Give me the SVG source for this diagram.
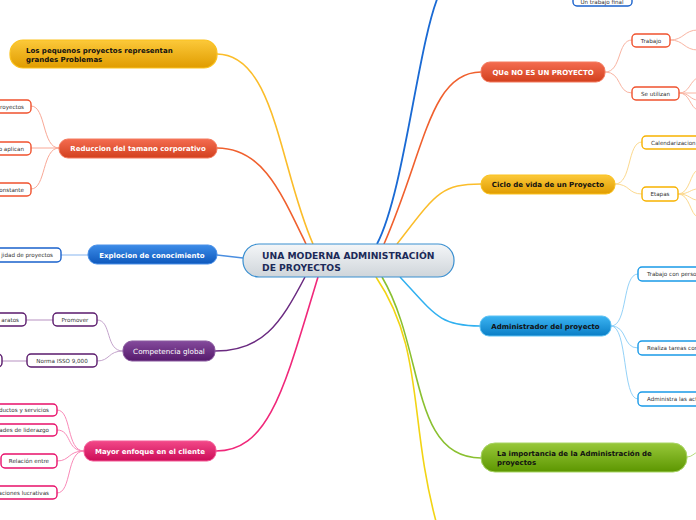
<svg xmlns="http://www.w3.org/2000/svg" width="696" height="520" viewBox="0 0 696 520">
<defs>
<linearGradient id="gCenter" x1="0" y1="0" x2="0" y2="1"><stop offset="0" stop-color="#f4f6f8"/><stop offset="1" stop-color="#cfd5da"/></linearGradient>
<linearGradient id="gYellow" x1="0" y1="0" x2="0" y2="1"><stop offset="0" stop-color="#fcc93a"/><stop offset="1" stop-color="#e09c00"/></linearGradient>
<linearGradient id="gRed" x1="0" y1="0" x2="0" y2="1"><stop offset="0" stop-color="#f46c50"/><stop offset="1" stop-color="#d2401e"/></linearGradient>
<linearGradient id="gBlue" x1="0" y1="0" x2="0" y2="1"><stop offset="0" stop-color="#3c8ce8"/><stop offset="1" stop-color="#0e58bc"/></linearGradient>
<linearGradient id="gPurple" x1="0" y1="0" x2="0" y2="1"><stop offset="0" stop-color="#844a9c"/><stop offset="1" stop-color="#561a6c"/></linearGradient>
<linearGradient id="gPink" x1="0" y1="0" x2="0" y2="1"><stop offset="0" stop-color="#f24888"/><stop offset="1" stop-color="#cc0c58"/></linearGradient>
<linearGradient id="gCyan" x1="0" y1="0" x2="0" y2="1"><stop offset="0" stop-color="#3cb4f2"/><stop offset="1" stop-color="#0a7ec6"/></linearGradient>
<linearGradient id="gGreen" x1="0" y1="0" x2="0" y2="1"><stop offset="0" stop-color="#98c83a"/><stop offset="1" stop-color="#5c9600"/></linearGradient>
</defs>
<style>
text{font-family:"DejaVu Sans",Verdana,sans-serif;}
.main{font-size:7px;font-weight:bold;}
.w{fill:#ffffff;}
.k{fill:#111111;}
.sub{font-size:5.6px;fill:#333333;}
.sn{fill:#ffffff;stroke-width:1.4;}
.c{fill:none;}
</style>

<g id="connectors">
  <path class="c" d="M377,244 C405,190 418,40 440,-8" stroke="#1a6ad4" stroke-width="1.8"/>
  <path class="c" d="M384,244 C425,150 430,72 481,72" stroke="#f0602e" stroke-width="1.6"/>
  <path class="c" d="M397,244 C435,195 440,184 481,184" stroke="#fbbd2a" stroke-width="1.5"/>
  <path class="c" d="M313,244 C280,170 275,54 217,54" stroke="#fbbd2a" stroke-width="1.6"/>
  <path class="c" d="M306,244 C280,190 262,148 217,148" stroke="#f0602e" stroke-width="1.6"/>
  <path class="c" d="M243,258 L217,255" stroke="#4a8ee0" stroke-width="1.4"/>
  <path class="c" d="M305,277 C280,325 262,351 215,351" stroke="#6a2a80" stroke-width="1.5"/>
  <path class="c" d="M318,277 C285,385 270,451 216,451" stroke="#f0287a" stroke-width="1.6"/>
  <path class="c" d="M400,277 C435,315 440,326 480,326" stroke="#30b0f0" stroke-width="1.5"/>
  <path class="c" d="M382,277 C425,350 410,458 481,458" stroke="#8ac030" stroke-width="1.6"/>
  <path class="c" d="M376,277 C425,350 408,420 437,525" stroke="#f2d414" stroke-width="1.6"/>
  <path class="c" d="M59,148 C42,148 46,106 31,106" stroke="#f9a896" stroke-width="1"/>
  <path class="c" d="M59,148 L31,148" stroke="#f9a896" stroke-width="1"/>
  <path class="c" d="M59,148 C42,148 46,189 31,189" stroke="#f9a896" stroke-width="1"/>
  <path class="c" d="M88,255 L61,255" stroke="#9cc2f2" stroke-width="1.2"/>
  <path class="c" d="M123,351 C105,351 112,320 97,320" stroke="#c4a4cc" stroke-width="1"/>
  <path class="c" d="M123,351 C108,351 110,361 97,361" stroke="#c4a4cc" stroke-width="1"/>
  <path class="c" d="M53,320 L26,320" stroke="#c4a4cc" stroke-width="1.2"/>
  <path class="c" d="M27,361 L2,361" stroke="#c4a4cc" stroke-width="1.2"/>
  <path class="c" d="M84,451 C66,451 72,410 57,410" stroke="#f98ab8" stroke-width="1"/>
  <path class="c" d="M84,451 C66,451 72,430 57,430" stroke="#f98ab8" stroke-width="1"/>
  <path class="c" d="M84,451 C68,451 70,461 57,461" stroke="#f98ab8" stroke-width="1"/>
  <path class="c" d="M84,451 C66,451 72,493 57,493" stroke="#f98ab8" stroke-width="1"/>
  <path class="c" d="M605,72 C622,72 617,40 632,40" stroke="#f9b4a2" stroke-width="1"/>
  <path class="c" d="M605,72 C622,72 617,93 632,93" stroke="#f9b4a2" stroke-width="1"/>
  <path class="c" d="M670,40 C684,40 684,30 698,30" stroke="#f9b4a2" stroke-width="1"/>
  <path class="c" d="M670,40 C684,40 684,50 698,50" stroke="#f9b4a2" stroke-width="1"/>
  <path class="c" d="M679,93 C690,93 690,80 698,78" stroke="#f9b4a2" stroke-width="1"/>
  <path class="c" d="M679,93 L698,93" stroke="#f9b4a2" stroke-width="1"/>
  <path class="c" d="M679,93 C690,93 690,100 698,100" stroke="#f9b4a2" stroke-width="1"/>
  <path class="c" d="M679,93 C690,93 690,108 698,110" stroke="#f9b4a2" stroke-width="1"/>
  <path class="c" d="M615,184 C632,184 627,142 642,142" stroke="#fcd98e" stroke-width="1"/>
  <path class="c" d="M615,184 C630,184 628,194 642,194" stroke="#fcd98e" stroke-width="1"/>
  <path class="c" d="M678,194 C690,194 690,172 698,170" stroke="#fcd98e" stroke-width="1"/>
  <path class="c" d="M678,194 C690,194 690,189 698,189" stroke="#fcd98e" stroke-width="1"/>
  <path class="c" d="M678,194 C690,194 690,200 698,200" stroke="#fcd98e" stroke-width="1"/>
  <path class="c" d="M678,194 C690,194 690,215 698,217" stroke="#fcd98e" stroke-width="1"/>
  <path class="c" d="M611,326 C628,326 622,274 638,274" stroke="#94d2f8" stroke-width="1"/>
  <path class="c" d="M611,326 C628,326 622,348 638,348" stroke="#94d2f8" stroke-width="1"/>
  <path class="c" d="M611,326 C628,326 622,399 638,399" stroke="#94d2f8" stroke-width="1"/>
  <path class="c" d="M687,457 C692,457 694,453 698,452" stroke="#b4dc7a" stroke-width="1"/>
</g>

<g id="center">
  <rect x="243" y="244" width="211" height="33" rx="16" fill="url(#gCenter)" stroke="#3a8fd0" stroke-width="1.2"/>
  <text x="262" y="259" font-size="9.2" font-weight="bold" fill="#1c2a58">UNA MODERNA ADMINISTRACIÓN</text>
  <text x="262" y="270.5" font-size="9.2" font-weight="bold" fill="#1c2a58">DE PROYECTOS</text>
</g>

<g id="n-pequenos">
  <rect x="10" y="40" width="207" height="28" rx="13" fill="url(#gYellow)" stroke="#fbc21e" stroke-width="1.2"/>
  <text class="main k" x="26" y="53">Los pequenos proyectos representan</text>
  <text class="main k" x="26" y="62">grandes Problemas</text>
</g>

<g id="n-reduccion">
  <rect x="59" y="139" width="158" height="19" rx="9" fill="url(#gRed)" stroke="#f47a5e" stroke-width="1"/>
  <text class="main w" x="138" y="151" text-anchor="middle">Reduccion del tamano corporativo</text>
</g>
<g id="n-red1"><rect class="sn" x="-10" y="100" width="41" height="13" rx="4" stroke="#f0522e"/><text class="sub" x="24" y="108.8" text-anchor="end">royectos</text></g>
<g id="n-red2"><rect class="sn" x="-10" y="142" width="41" height="13" rx="4" stroke="#f0522e"/><text class="sub" x="24" y="150.8" text-anchor="end">o aplican</text></g>
<g id="n-red3"><rect class="sn" x="-10" y="183" width="41" height="13" rx="4" stroke="#f0522e"/><text class="sub" x="24" y="191.8" text-anchor="end">onstante</text></g>

<g id="n-explocion">
  <rect x="88" y="245" width="129" height="19" rx="9" fill="url(#gBlue)" stroke="#4a90e8" stroke-width="1"/>
  <text class="main w" x="152" y="257.5" text-anchor="middle">Explocion de conocimiento</text>
</g>
<g id="n-exp1"><rect class="sn" x="-10" y="248" width="71" height="14" rx="4" stroke="#1a62cc"/><text class="sub" x="53" y="257" text-anchor="end">jidad de proyectos</text></g>

<g id="n-competencia">
  <rect x="123" y="341" width="92" height="20" rx="9" fill="url(#gPurple)" stroke="#8a5aa0" stroke-width="1"/>
  <text x="169" y="353.5" font-size="7.2" class="w" text-anchor="middle">Competencia global</text>
</g>
<g id="n-promover"><rect class="sn" x="53" y="313" width="44" height="13" rx="4" stroke="#5a1a6c"/><text class="sub" x="75" y="321.8" text-anchor="middle">Promover</text></g>
<g id="n-baratos"><rect class="sn" x="-10" y="313" width="36" height="13" rx="4" stroke="#5a1a6c"/><text class="sub" x="19" y="321.8" text-anchor="end">aratos</text></g>
<g id="n-norma"><rect class="sn" x="27" y="354" width="70" height="13" rx="4" stroke="#5a1a6c"/><text class="sub" x="62" y="362.8" text-anchor="middle">Norma ISSO 9,000</text></g>
<g id="n-norma1"><rect class="sn" x="-10" y="354" width="12" height="13" rx="4" stroke="#5a1a6c"/></g>

<g id="n-mayor">
  <rect x="84" y="441" width="132" height="20" rx="9" fill="url(#gPink)" stroke="#f45a96" stroke-width="1"/>
  <text class="main w" x="150" y="453.5" text-anchor="middle">Mayor enfoque en el cliente</text>
</g>
<g id="n-may1"><rect class="sn" x="-10" y="404" width="67" height="12" rx="4" stroke="#e8106a"/><text class="sub" x="49" y="412.2" text-anchor="end">ductos y servicios</text></g>
<g id="n-may2"><rect class="sn" x="-10" y="424" width="67" height="12" rx="4" stroke="#e8106a"/><text class="sub" x="49" y="432.2" text-anchor="end">lades de liderazgo</text></g>
<g id="n-may3"><rect class="sn" x="1" y="454" width="56" height="14" rx="4" stroke="#e8106a"/><text class="sub" x="49" y="463" text-anchor="end">Relación entre</text></g>
<g id="n-may4"><rect class="sn" x="-10" y="486" width="67" height="13" rx="4" stroke="#e8106a"/><text class="sub" x="49" y="494.8" text-anchor="end">aciones lucrativas</text></g>

<g id="n-trabajofinal"><rect class="sn" x="573" y="-5" width="59" height="11" rx="4" stroke="#1a62cc"/><text class="sub" x="602" y="3.8" text-anchor="middle">Un trabajo final</text></g>

<g id="n-queno">
  <rect x="481" y="62" width="124" height="20" rx="9" fill="url(#gRed)" stroke="#f47a5e" stroke-width="1"/>
  <text class="main w" x="543" y="74.5" text-anchor="middle">QUe NO ES UN PROYECTO</text>
</g>
<g id="n-trabajo"><rect class="sn" x="632" y="34" width="38" height="13" rx="4" stroke="#f0522e"/><text class="sub" x="651" y="42.8" text-anchor="middle">Trabajo</text></g>
<g id="n-seutilizan"><rect class="sn" x="632" y="87" width="47" height="13" rx="4" stroke="#f0522e"/><text class="sub" x="655.5" y="95.8" text-anchor="middle">Se utilizan</text></g>

<g id="n-ciclo">
  <rect x="481" y="175" width="134" height="19" rx="9" fill="url(#gYellow)" stroke="#fbc21e" stroke-width="1"/>
  <text class="main k" x="548" y="187.3" text-anchor="middle">Ciclo de vida de un Proyecto</text>
</g>
<g id="n-calendarizacion"><rect class="sn" x="642" y="136" width="62" height="13" rx="4" stroke="#f7b200"/><text class="sub" x="651" y="144.8">Calendarizacion</text></g>
<g id="n-etapas"><rect class="sn" x="642" y="187" width="36" height="14" rx="4" stroke="#f7b200"/><text class="sub" x="660" y="196.2" text-anchor="middle">Etapas</text></g>

<g id="n-administrador">
  <rect x="480" y="316" width="131" height="20" rx="9" fill="url(#gCyan)" stroke="#5cc2f4" stroke-width="1"/>
  <text class="main k" x="545.5" y="328.5" text-anchor="middle">Administrador del proyecto</text>
</g>
<g id="n-adm1"><rect class="sn" x="638" y="267" width="70" height="14" rx="4" stroke="#1a9ae8"/><text class="sub" x="647" y="276.2">Trabajo con perso</text></g>
<g id="n-adm2"><rect class="sn" x="638" y="341" width="70" height="14" rx="4" stroke="#1a9ae8"/><text class="sub" x="647" y="350.2">Realiza tareas cor</text></g>
<g id="n-adm3"><rect class="sn" x="638" y="392" width="70" height="14" rx="4" stroke="#1a9ae8"/><text class="sub" x="647" y="401.2">Administra las act</text></g>

<g id="n-importancia">
  <rect x="481" y="443" width="206" height="29" rx="14" fill="url(#gGreen)" stroke="#a8d464" stroke-width="1"/>
  <text class="main k" x="497" y="456">La importancia de la Administración de</text>
  <text class="main k" x="497" y="465">proyectos</text>
</g>
</svg>
